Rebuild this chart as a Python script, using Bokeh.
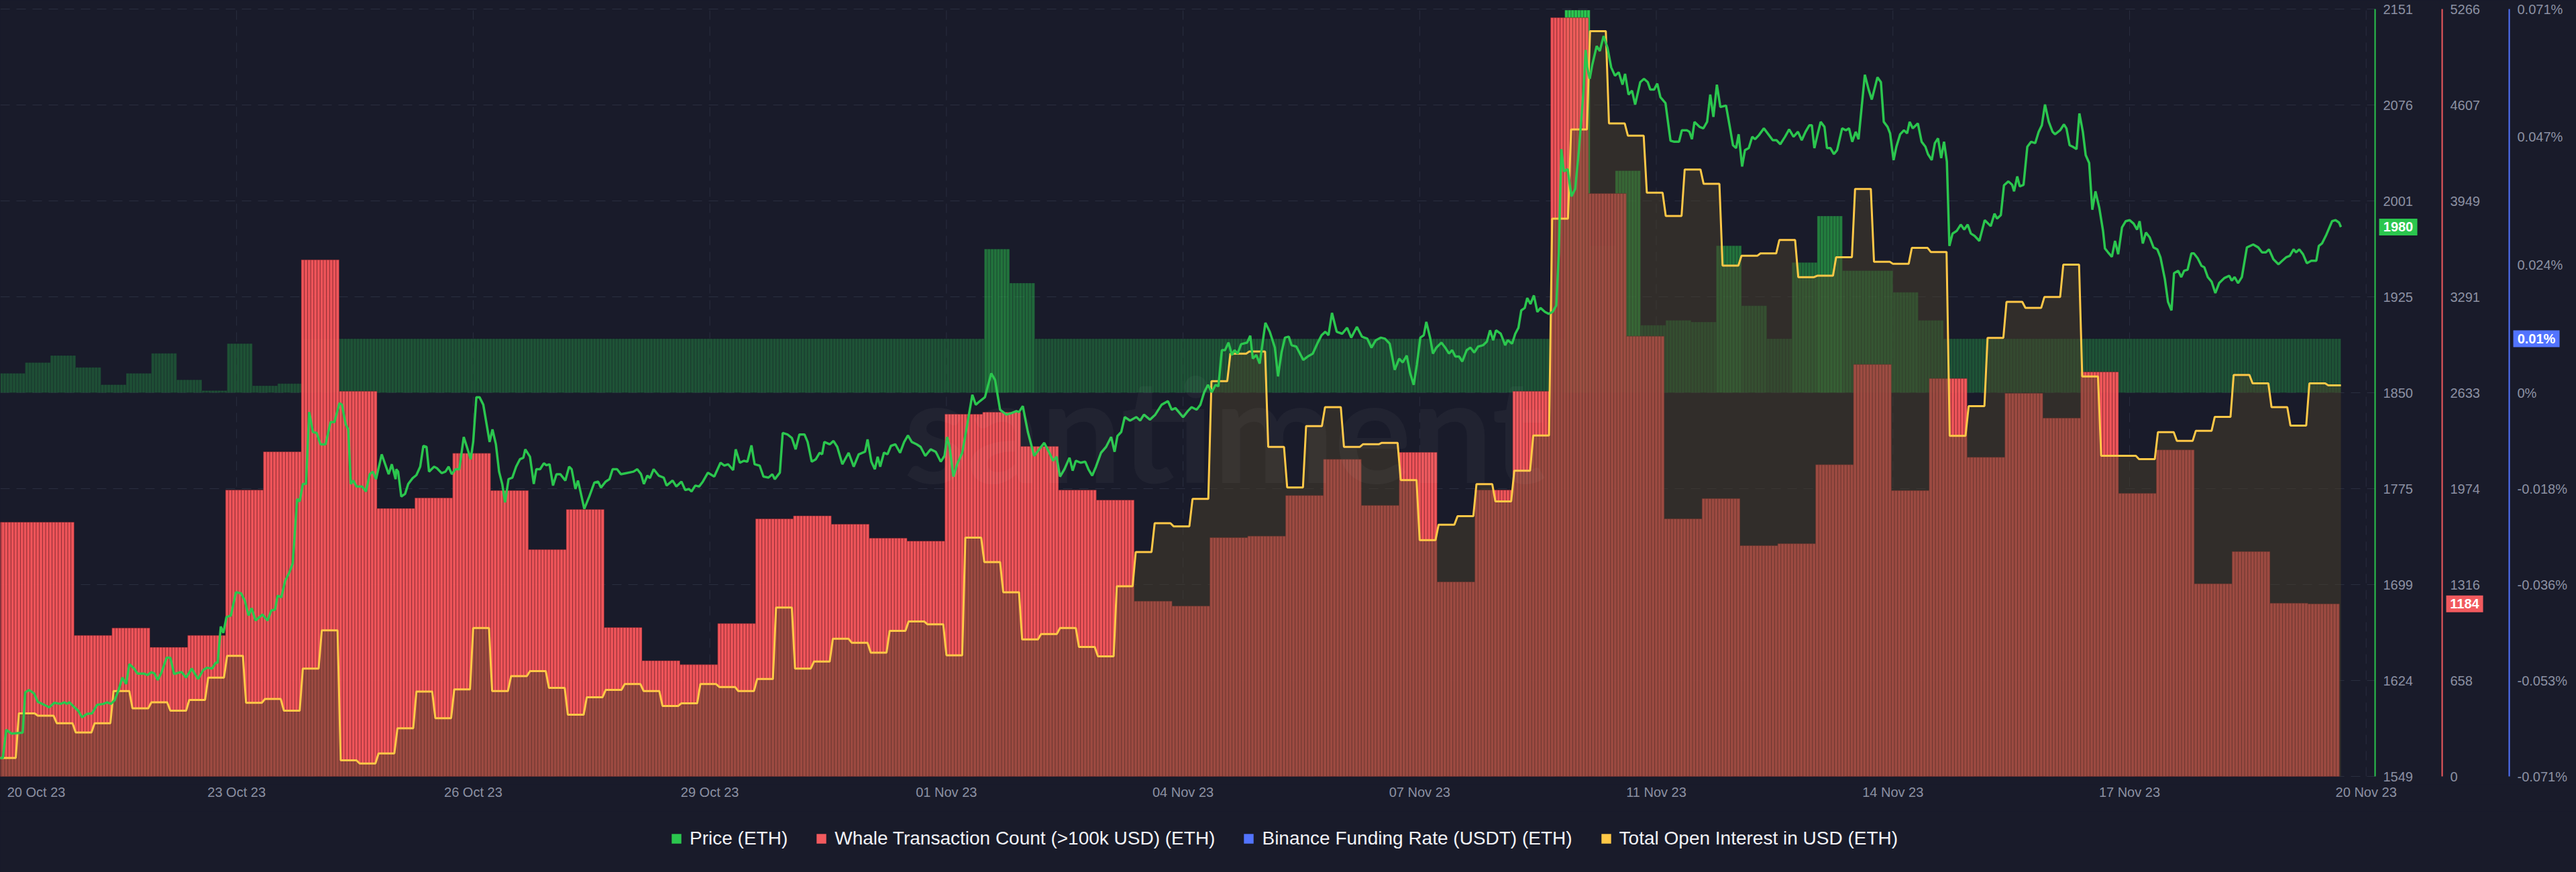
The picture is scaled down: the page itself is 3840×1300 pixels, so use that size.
import numpy as np
from bokeh.plotting import figure
from bokeh.layouts import column
from bokeh.models import (Range1d, LinearAxis, FixedTicker, ColumnDataSource,
                          Legend, LegendItem)
from bokeh.core.properties import value
from bokeh.embed import file_html
from bokeh.resources import INLINE

# ---------------------------------------------------------------- data
x_tick_labels = ["20 Oct 23", "23 Oct 23", "26 Oct 23", "29 Oct 23", "01 Nov 23",
                 "04 Nov 23", "07 Nov 23", "11 Nov 23", "14 Nov 23", "17 Nov 23", "20 Nov 23"]

price_tick_labels = ["1549", "1624", "1699", "1775", "1850", "1925", "2001", "2076", "2151"]
whale_tick_labels = ["0", "658", "1316", "1974", "2633", "3291", "3949", "4607", "5266"]
funding_tick_labels = ["-0.071%", "-0.053%", "-0.036%", "-0.018%", "0%", "0.024%", "0.047%", "0.071%"]

# hours since 20 Oct 23 00:00
price_hour = [
    0.0, 0.9, 2.0, 3.6, 7.2, 8.0, 9.2, 10.8, 12.0, 14.0, 15.6, 17.2, 19.2, 20.4, 21.2, 22.0, 23.6, 24.8,
    26.0, 27.6, 29.2, 30.8, 32.8, 34.0, 35.2, 36.4, 37.6, 38.8, 40.0, 41.0, 42.4, 43.6, 45.6, 46.8, 48.0,
    49.0, 50.0, 51.2, 52.8, 54.0, 55.2, 56.8, 57.6, 59.0, 60.8, 62.8, 64.4, 65.6, 67.2, 68.4, 69.0, 70.0,
    70.8, 71.8, 73.2, 74.8, 76.4, 77.6, 78.8, 79.8, 81.0, 83.2, 84.8, 86.0, 87.2, 88.0, 89.2, 90.4, 91.6,
    92.8, 93.6, 94.2, 95.0, 96.0, 97.0, 98.0, 99.2, 100.4, 101.6, 103.2, 104.8, 106.0, 107.6, 108.4, 109.6,
    110.4, 111.2, 112.0, 113.0, 114.8, 116.0, 117.2, 118.2, 119.2, 121.0, 123.2, 124.2, 125.4,
    125.6, 126.2, 127.2, 128.4, 129.4, 130.8, 132.0, 133.2, 134.2, 135.2, 136.0, 137.6, 138.5, 140.0, 141.2,
    142.2, 143.2, 144.4, 145.6, 147.0, 148.0, 149.2, 150.0, 151.0, 152.0, 153.2, 155.2, 156.1, 157.2, 158.2,
    159.2, 160.1, 161.2, 162.4, 163.6, 164.8, 165.9, 166.5, 168.0, 169.2, 170.0, 171.2, 172.4, 173.2, 174.2,
    175.3, 176.4, 177.6, 179.2, 180.4, 181.2, 182.4, 183.2, 184.0, 185.2, 186.8, 188.4, 189.6, 190.5, 192.0,
    193.2, 194.2, 195.6, 196.8, 198.4, 200.8, 202.0, 203.2, 204.1, 205.2, 206.0, 207.2, 208.8, 210.4, 211.3,
    213.2, 214.4, 216.0, 217.2, 218.4, 219.2, 220.4, 221.6, 222.8, 224.4, 226.4, 228.4, 229.6, 230.8, 232.4,
    233.2, 234.5, 235.8, 236.9, 238.2, 239.2, 240.8, 242.0, 243.6, 244.8, 245.6, 247.2, 248.1, 249.6, 251.0,
    252.2, 253.4, 255.0, 256.0, 257.3, 258.6, 259.8, 260.6, 261.3, 263.0, 264.2, 265.4, 267.0, 269.0, 270.6,
    272.2, 274.2, 275.0, 276.2, 277.3, 278.2, 279.0, 280.2, 281.3, 282.4, 283.8, 285.3, 286.6, 287.8, 289.0,
    290.6, 291.8, 293.3, 295.0, 296.6, 298.2, 299.4, 300.2, 301.0, 302.2, 303.4, 305.0, 306.6, 308.2, 309.3,
    310.6, 312.2, 314.2, 315.4, 317.0, 319.0, 320.6, 322.2, 323.0, 324.2, 325.8, 327.8, 329.4, 331.0, 332.6,
    333.8, 334.9, 336.0, 337.4, 339.0, 340.0, 341.0, 342.6, 344.0, 345.0, 346.2, 347.4, 349.0, 350.6, 352.2,
    353.3, 354.2, 355.4, 356.5, 358.2, 360.2, 361.4, 362.6, 364.5, 366.2, 368.2, 370.2, 371.4, 372.6, 375.0,
    376.5, 377.7, 379.3, 380.5, 381.7, 382.9, 384.1, 385.3, 386.2, 387.3, 388.3, 389.4, 390.5, 391.3, 392.3,
    393.4, 395.3, 396.3, 397.1, 398.2, 399.3, 401.1, 402.5, 404.1, 405.1, 406.2, 407.3, 408.5, 409.4, 410.9,
    413.1, 414.5, 416.1, 417.7, 418.9, 420.1, 421.1, 422.2, 423.7, 425.4, 427.0, 428.3, 430.1, 431.7, 433.4,
    434.7, 436.1, 437.7, 439.0, 440.5, 442.1, 443.5, 444.6, 445.9, 447.0, 448.1, 449.1, 450.2, 451.3, 452.1,
    453.3, 454.2, 455.3, 456.9, 458.1, 459.3, 460.3, 461.3, 462.5, 463.5, 464.9, 466.1, 467.3, 468.5, 470.1,
    471.3, 472.3, 473.3, 474.2, 475.7, 477.1, 477.9, 479.3, 480.3, 481.3, 482.2, 483.3, 484.1, 485.1, 486.2,
    487.3, 488.3, 489.7, 490.9, 492.1, 493.3, 494.1, 494.9, 495.7, 496.9, 498.1, 499.3, 500.5, 501.9,
    502.6, 503.1, 503.9, 504.7, 506.1, 507.1, 508.3, 509.5, 510.7, 511.9, 513.1, 514.3, 515.1, 516.2, 517.3,
    518.3, 519.9, 521.1, 522.3, 523.1, 524.3, 525.3, 526.3, 527.9, 529.5, 530.7, 532.2, 533.1, 534.7, 535.5,
    536.3, 537.1, 538.7, 539.9, 541.1, 542.1, 543.1, 544.2, 545.3, 547.1, 548.3, 549.3, 550.3, 551.1, 552.2,
    553.1, 554.3, 555.4, 556.3, 557.5, 559.1, 560.5, 561.9, 563.1, 564.3, 565.8, 567.1, 568.5, 569.9, 571.1,
    572.3, 573.5, 574.3, 575.1, 576.2, 577.1, 578.3, 579.1, 580.2, 581.3, 582.3, 583.9, 585.1, 586.1, 587.1,
    588.2, 589.1, 591.1, 592.3, 593.3, 595.1, 596.2, 597.1, 598.3, 599.1, 600.2, 601.1, 602.3, 603.5, 604.5,
    605.3, 606.3, 607.9, 609.1, 610.3, 611.1, 612.3, 613.3, 614.3, 615.3, 616.2, 617.1, 617.9, 618.9, 620.2,
    621.5, 622.6, 623.7, 624.7, 625.9, 627.4, 629.1, 631.0, 632.2, 633.0, 634.2, 635.2, 636.6, 637.8, 638.4,
    639.4, 640.2, 641.4, 642.6, 643.8, 645.1, 646.2, 647.2, 648.2, 649.4, 650.6, 651.4, 653.0, 654.2, 655.0,
    656.0, 657.0, 658.2, 659.1, 660.2, 661.1, 662.2, 663.2, 664.2, 665.4, 666.6, 667.2, 668.2, 669.4, 670.4,
    671.4, 672.6, 673.8, 675.0, 676.3, 677.4, 678.2, 679.2, 680.2, 681.4, 682.6, 683.8, 684.8, 686.2, 687.2,
    688.3, 689.1, 690.4, 691.4, 692.3, 693.4, 694.6, 695.4, 696.6, 697.8, 698.7, 699.8, 701.0, 702.2, 703.4,
    705.0, 706.6, 707.4, 708.3, 709.4, 710.6, 712.2, 714.2, 715.8, 717.0, 718.2, 719.2, 720.6, 722.2, 723.4,
    724.6, 725.8, 727.0, 727.8, 728.8, 730.0, 731.2, 732.6, 734.2, 735.0, 736.0, 737.4, 739.2, 740.3, 741.4,
    742.0]

price_usd = [
    1563.5, 1563.5, 1585.7, 1582.6, 1583.3, 1614.9, 1616.8, 1614.1, 1607.5, 1605.2, 1603.2, 1606.7, 1605.9,
    1607.1, 1605.9, 1607.1, 1603.2, 1600.5, 1595.4, 1598.1, 1598.5, 1605.2, 1605.9, 1607.1, 1605.9, 1609.0,
    1616.8, 1626.6, 1621.5, 1637.1, 1634.0, 1629.7, 1629.7, 1628.5, 1630.8, 1629.7, 1624.6, 1630.5, 1642.1,
    1642.1, 1629.3, 1630.5, 1630.8, 1626.6, 1633.6, 1625.4, 1632.4, 1634.3, 1633.6, 1638.2, 1638.2, 1666.6,
    1661.6, 1674.0, 1675.2, 1693.5, 1692.7, 1686.9, 1675.2, 1681.0, 1671.3, 1676.0, 1671.3, 1679.1, 1679.9,
    1690.8, 1689.6, 1702.5, 1708.3, 1716.1, 1745.3, 1766.7, 1764.7, 1778.4, 1778.4, 1834.8, 1819.2, 1818.4,
    1809.5, 1809.5, 1827.0, 1827.0, 1841.8, 1840.6, 1825.1, 1821.2, 1778.4, 1781.1, 1776.4, 1776.4, 1772.5,
    1786.1, 1788.1, 1782.2, 1801.7, 1786.1, 1793.9, 1782.2,
    1790.0, 1788.1, 1768.6, 1770.6, 1778.4, 1783.0, 1785.4, 1792.0, 1808.3, 1807.5, 1788.1, 1792.0, 1790.8,
    1786.9, 1788.1, 1792.0, 1786.1, 1790.0, 1790.0, 1815.3, 1807.5, 1797.8, 1811.4, 1846.5, 1846.5, 1840.6,
    1811.4, 1821.2, 1809.5, 1788.1, 1778.4, 1764.0, 1782.2, 1783.4, 1792.0, 1797.8, 1799.0, 1805.6, 1799.8,
    1778.4, 1790.0, 1790.0, 1794.7, 1793.1, 1793.9, 1777.2, 1786.1, 1786.1, 1781.1, 1792.0, 1790.0, 1774.5,
    1781.1, 1772.5, 1758.9, 1768.6, 1779.5, 1780.3, 1775.6, 1780.3, 1782.2, 1790.0, 1790.0, 1786.1, 1786.9,
    1788.1, 1790.0, 1786.1, 1778.4, 1785.0, 1783.0, 1790.0, 1785.0, 1783.4, 1777.2, 1781.1, 1776.4, 1780.3,
    1773.7, 1774.5, 1772.5, 1777.2, 1776.4, 1780.3, 1787.3, 1784.2, 1795.1, 1792.8, 1793.9, 1789.3, 1805.6,
    1795.1, 1796.6, 1795.9, 1808.7, 1793.9, 1792.8, 1784.2, 1783.4, 1786.1, 1782.2, 1787.3, 1818.4, 1817.3,
    1814.6,
    1805.6, 1817.3, 1817.3, 1811.4, 1795.9, 1797.8, 1802.9, 1801.7, 1811.4, 1809.5, 1812.2, 1807.5, 1793.9,
    1802.9, 1792.0, 1801.7, 1803.7, 1813.4, 1795.9, 1790.0, 1799.8, 1792.0, 1803.0, 1801.7, 1808.3, 1809.5,
    1802.9, 1811.4, 1816.5, 1811.4, 1809.5, 1807.5, 1800.5, 1805.6, 1803.7, 1795.9, 1800.5, 1815.3, 1807.5,
    1784.2, 1793.9, 1802.9, 1825.1, 1848.4, 1840.6, 1843.4, 1846.5, 1865.2, 1860.1, 1836.7, 1832.8, 1834.0,
    1835.6, 1834.8, 1839.5, 1819.2, 1800.5, 1805.6, 1810.7, 1803.0, 1796.6, 1799.8, 1784.2, 1790.0, 1799.0,
    1788.9, 1796.6, 1795.1, 1795.9, 1790.0, 1785.0, 1792.0, 1802.9, 1807.5, 1815.3, 1803.7, 1816.1, 1819.2,
    1830.9, 1828.2, 1830.9, 1828.2, 1832.8, 1828.9, 1832.8, 1840.6, 1843.4, 1836.7, 1837.9, 1830.9, 1835.6,
    1838.7, 1836.7, 1840.6, 1850.4, 1856.2, 1850.4, 1856.2, 1855.0, 1883.4, 1883.4, 1889.3, 1879.6, 1883.4,
    1880.7, 1888.1, 1889.3, 1894.7, 1876.8, 1879.6, 1872.9, 1904.9, 1897.8, 1885.4, 1862.8, 1881.5, 1893.2,
    1894.0, 1887.3, 1886.2, 1875.7, 1878.4, 1880.7, 1889.3, 1895.1, 1897.8, 1895.1, 1912.6, 1897.8, 1896.3,
    1901.0, 1893.2, 1901.7, 1894.0, 1892.4, 1885.4, 1891.2, 1893.2, 1892.4, 1888.5, 1867.9, 1876.8, 1873.7,
    1879.2, 1865.2, 1856.2, 1871.8, 1893.2, 1895.1, 1905.6, 1893.2, 1880.7, 1885.4, 1889.3, 1885.4, 1880.7,
    1883.4, 1878.4, 1878.4, 1874.5, 1883.4, 1885.4, 1881.5, 1886.2, 1887.3, 1890.1, 1899.0, 1891.2, 1899.0,
    1896.3, 1887.3, 1891.2, 1888.5, 1896.3, 1901.0, 1914.6, 1916.5, 1924.3, 1919.6, 1926.3, 1913.4, 1916.5,
    1913.4, 1911.9, 1913.4, 1918.5, 1959.3, 2041.1, 2023.6, 2025.5, 2004.1, 2009.9, 2041.1, 2085.8,
    2118.9, 2105.3, 2096.3, 2107.2, 2122.0, 2118.1, 2129.8, 2120.9, 2105.3, 2098.7, 2101.4, 2091.7, 2100.2,
    2083.9, 2087.0, 2076.1, 2093.6, 2096.3, 2093.6, 2087.8, 2087.8, 2092.5, 2081.9, 2077.3, 2047.7, 2046.9,
    2046.9, 2055.9, 2055.9, 2054.7, 2048.9, 2062.5, 2058.6, 2057.4, 2062.5, 2083.9, 2066.4, 2091.7, 2074.2,
    2075.3, 2058.6, 2044.2, 2041.9, 2052.8, 2027.5, 2040.3, 2041.9, 2050.8, 2048.9, 2052.0, 2057.4, 2052.8,
    2048.1, 2048.1, 2045.0, 2050.8, 2056.6, 2050.8, 2054.7, 2048.1, 2054.7, 2059.8, 2059.8, 2041.9, 2053.5,
    2062.5, 2058.6, 2041.9, 2041.9, 2037.2, 2040.3, 2057.4, 2055.9, 2057.4, 2046.9, 2054.7, 2048.9, 2099.5,
    2087.8, 2080.0, 2097.5, 2093.6, 2062.5, 2058.6, 2053.5, 2032.5, 2043.0, 2052.8, 2055.9, 2053.5, 2062.5,
    2057.4, 2061.3, 2046.9, 2043.0, 2037.2, 2032.5, 2045.8, 2049.6, 2034.1, 2046.9, 2031.3, 1965.2, 1974.9,
    1976.9, 1981.9, 1978.0, 1981.9, 1974.9, 1973.0, 1969.1, 1985.4, 1980.7, 1990.5, 1986.6, 1989.3, 2012.7,
    2015.8, 2013.1, 2008.0, 2019.7, 2011.9, 2013.1, 2043.0, 2046.9, 2045.8, 2054.7, 2059.8, 2076.1, 2062.5,
    2054.7, 2052.8, 2055.9, 2060.5, 2057.4, 2044.2, 2043.0, 2041.1, 2069.1, 2054.7, 2036.4, 2030.2, 1993.6,
    2008.0, 1995.2, 1976.9, 1963.2, 1960.1, 1956.6, 1969.1, 1958.6, 1979.6, 1984.6, 1985.4, 1982.7, 1978.0,
    1984.6, 1967.1, 1975.7, 1971.8, 1964.0, 1962.5, 1956.2, 1939.1, 1921.2, 1914.6, 1943.8, 1945.7, 1940.7,
    1945.7, 1946.5, 1959.3, 1959.3, 1955.5, 1949.6, 1948.4, 1940.7, 1937.2, 1928.2, 1936.0, 1939.9, 1941.8,
    1937.9, 1940.7, 1936.0, 1940.7, 1964.0, 1966.3, 1964.0, 1960.1, 1960.1, 1962.5, 1954.7, 1950.8, 1953.5,
    1956.2, 1957.4, 1962.5, 1960.1, 1962.5, 1958.6, 1951.6, 1953.5, 1953.5, 1965.2, 1967.1, 1974.1, 1984.6,
    1985.4, 1983.5, 1980.0]

# whale transactions (>100k USD), one value per 12 hours
whale_count_12h = [
    1745, 1745, 968, 1019, 886, 968, 1965, 2228, 3545, 2643, 1839, 1911, 2217, 1962, 1557, 1832,
    1022, 794, 767, 1049, 1768, 1788, 1731, 1635, 1615, 2486, 2500, 2265, 1965, 1897, 1203, 1169,
    1639, 1649, 1928, 2176, 1860, 2224, 1335, 1965, 2643, 5207, 4000, 3021, 1768, 1907, 1584, 1597,
    2139, 2827, 1962, 2731, 2190, 2629, 2459, 2776, 1942, 2241, 1322, 1543, 1189, 1184]

# Binance funding rate (%), one value per 8 hours
funding_rate_8h = [
    0.0036, 0.0056, 0.0069, 0.0047, 0.0015, 0.0036, 0.0073, 0.0024, 0.0004, 0.0091, 0.0013, 0.0017,
    0.01, 0.01, 0.01, 0.01, 0.01, 0.01, 0.01, 0.01, 0.01, 0.01, 0.01, 0.01, 0.01, 0.01, 0.01, 0.01,
    0.01, 0.01, 0.01, 0.01, 0.01, 0.01, 0.01, 0.01, 0.01, 0.01, 0.01, 0.0266, 0.0203, 0.01, 0.01,
    0.01, 0.01, 0.01, 0.01, 0.01, 0.01, 0.01, 0.01, 0.01, 0.01, 0.01, 0.01, 0.01, 0.01, 0.01, 0.01,
    0.01, 0.01, 0.01, 0.0708, 0.0272, 0.0411, 0.0125, 0.0134, 0.0131, 0.0272, 0.0161, 0.01, 0.0241,
    0.0327, 0.0226, 0.0226, 0.0186, 0.0134, 0.01, 0.01, 0.01, 0.01, 0.01, 0.01, 0.01, 0.01, 0.01,
    0.01, 0.01, 0.01, 0.01, 0.01, 0.01, 0.01]

# total open interest (billion USD), one value per 6 hours
open_interest_6h = [
    4.877, 5.063, 5.053, 5.022, 4.983, 5.022, 5.156, 5.084, 5.109, 5.074, 5.119, 5.212, 5.303, 5.107,
    5.123, 5.074, 5.250, 5.409, 4.867, 4.854, 4.896, 5.001, 5.154, 5.043, 5.163, 5.419, 5.156, 5.218,
    5.239, 5.169, 5.057, 5.130, 5.161, 5.185, 5.156, 5.094, 5.105, 5.185, 5.173, 5.156, 5.206, 5.504,
    5.250, 5.279, 5.374, 5.357, 5.316, 5.407, 5.446, 5.434, 5.305, 5.796, 5.694, 5.568, 5.371, 5.394,
    5.419, 5.340, 5.301, 5.593, 5.736, 5.856, 5.843, 5.957, 6.448, 6.563, 6.572, 6.174, 6.005, 6.261,
    6.340, 6.174, 6.185, 6.191, 6.036, 5.785, 5.850, 5.885, 6.019, 5.947, 6.075, 6.222, 7.126, 7.498,
    7.908, 7.523, 7.472, 7.234, 7.137, 7.331, 7.271, 6.930, 6.971, 6.981, 7.037, 6.882, 6.888, 6.965,
    7.250, 6.946, 6.938, 7.004, 6.987, 6.220, 6.344, 6.629, 6.779, 6.754, 6.799, 6.934, 6.468, 6.137,
    6.137, 6.123, 6.236, 6.199, 6.241, 6.299, 6.474, 6.439, 6.340, 6.263, 6.439, 6.431]

last_price = 1980
last_whale = 1184
last_funding = 0.01

# ---------------------------------------------------------------- styling / layout constants
BG = "#191B2A"
GRID = "#2A2E3F"
TICK_TXT = "#8C91A3"
C_PRICE = "#2BC64E"
C_WHALE_BAR = "#FF585D"
C_WHALE = "#F25A5E"
C_FUND = "#5274FF"
C_FUND_BAR = "#2BC64E"
C_OI = "#FFC847"
C_OI_FILL = "#4A3F2A"
FONT = "Liberation Sans"

W = 3840
FRAME_H = 1169                    # frame spans page y 0..1169
DATA_TOP, DATA_BOTTOM = 13, 1157  # where the axis extremes sit
PX_PER_H = 4.703                  # horizontal scale
X_OFF = 0.55


def px_to_h(px):
    return (px + X_OFF) / PX_PER_H


def padded_range(lo, hi):
    per_px = (hi - lo) / (DATA_BOTTOM - DATA_TOP)
    return Range1d(lo - (FRAME_H - DATA_BOTTOM) * per_px, hi + DATA_TOP * per_px)


AX_PRICE, AX_WHALE, AX_FUND = px_to_h(3540), px_to_h(3640), px_to_h(3740)

N_HOURS = 742
hours = np.arange(N_HOURS)
whale_h = np.repeat(np.array(whale_count_12h, float), 12)[:N_HOURS]
fund_h = np.repeat(np.array(funding_rate_8h, float), 8)[:N_HOURS]
oi_h = np.repeat(np.array(open_interest_6h, float), 6)[:N_HOURS + 1]
fund_alpha = np.clip(0.33 + (fund_h - 0.01) / 0.061 * 0.67, 0.30, 1.0)

PRICE_LO, PRICE_HI = 1549, 2151
WHALE_LO, WHALE_HI = 0, 5266
FUND_LO, FUND_HI = -0.071, 0.071
OI_LO, OI_HI = 4.8, 8.0

p = figure(frame_width=W, frame_height=FRAME_H,
           x_range=Range1d(px_to_h(0), px_to_h(W)), y_range=padded_range(PRICE_LO, PRICE_HI),
           y_axis_location="right", output_backend="svg", toolbar_location=None,
           min_border_left=0, min_border_right=0, min_border_top=0, min_border_bottom=40,
           background_fill_color=BG, border_fill_color=BG, outline_line_color=None,
           styles={"background-color": BG})
p.extra_y_ranges = {"whale": padded_range(WHALE_LO, WHALE_HI),
                    "funding": padded_range(FUND_LO, FUND_HI),
                    "oi": padded_range(OI_LO, OI_HI)}

# ---- axes
price_ticks = [PRICE_LO + 75.25 * k for k in range(9)]
whale_ticks = [658.25 * k for k in range(9)]
funding_ticks = [-0.071, -0.05325, -0.0355, -0.01775, 0.0, 0.071 / 3, 0.142 / 3, 0.071]


def style_y_axis(ax, color, ticks, labels, loc, bounds):
    ax.fixed_location = loc
    ax.bounds = bounds
    ax.ticker = FixedTicker(ticks=ticks)
    ax.major_label_overrides = dict(zip(ticks, labels))
    ax.axis_line_color = color
    ax.axis_line_width = 2
    ax.major_tick_line_color = None
    ax.minor_tick_line_color = None
    ax.major_tick_out = 0
    ax.major_tick_in = 0
    ax.minor_tick_out = 0
    ax.major_label_standoff = 12
    ax.major_label_text_font = FONT
    ax.major_label_text_font_size = "20px"
    ax.major_label_text_color = TICK_TXT


style_y_axis(p.yaxis[0], C_PRICE, price_ticks, price_tick_labels, AX_PRICE, (PRICE_LO, PRICE_HI))
ax_whale = LinearAxis(y_range_name="whale")
style_y_axis(ax_whale, C_WHALE, whale_ticks, whale_tick_labels, AX_WHALE, (WHALE_LO, WHALE_HI))
p.add_layout(ax_whale, "right")
ax_fund = LinearAxis(y_range_name="funding")
style_y_axis(ax_fund, C_FUND, funding_ticks, funding_tick_labels, AX_FUND, (FUND_LO, FUND_HI))
p.add_layout(ax_fund, "right")

x_ticks = [11.5] + [75 * i for i in range(1, len(x_tick_labels))]
xa = p.xaxis[0]
xa.ticker = FixedTicker(ticks=x_ticks)
xa.major_label_overrides = dict(zip(x_ticks, x_tick_labels))
xa.axis_line_color = None
xa.major_tick_line_color = None
xa.minor_tick_line_color = None
xa.major_tick_out = 0
xa.major_tick_in = 0
xa.major_label_standoff = 0
xa.major_label_text_font = FONT
xa.major_label_text_font_size = "20px"
xa.major_label_text_color = TICK_TXT

p.xgrid.visible = False
p.ygrid.visible = False
# dashed grid: horizontal lines stop at the price axis, vertical lines at the date ticks
p.segment(x0=px_to_h(0), x1=AX_PRICE, y0=price_ticks, y1=price_ticks,
          line_color=GRID, line_dash="14 10", line_width=1)
p.segment(x0=x_ticks[1:], x1=x_ticks[1:], y0=PRICE_LO, y1=PRICE_HI,
          line_color=GRID, line_dash="14 10", line_width=1)

# ---- glyphs
fund_src = ColumnDataSource(dict(x=hours + 0.5, top=fund_h, a=fund_alpha))
p.vbar(x="x", top="top", bottom=0, width=1.0, source=fund_src, y_range_name="funding",
       fill_color=C_FUND_BAR, fill_alpha="a", line_color=BG, line_alpha=0.3, line_width=1)

whale_src = ColumnDataSource(dict(x=hours, top=whale_h))
p.vbar(x="x", top="top", bottom=0, width=1.0, source=whale_src, y_range_name="whale",
       fill_color=C_WHALE_BAR, fill_alpha=0.93, line_color="#6A1F28", line_alpha=0.5,
       line_width=1)

oi_src = ColumnDataSource(dict(x=np.arange(len(oi_h)), y=oi_h))
p.varea(x="x", y1=OI_LO, y2="y", source=oi_src, y_range_name="oi",
        fill_color=C_OI_FILL, fill_alpha=0.5)
p.line(x="x", y="y", source=oi_src, y_range_name="oi", line_color=C_OI, line_width=3)

price_src = ColumnDataSource(dict(x=price_hour, y=price_usd))
p.line(x="x", y="y", source=price_src, line_color=C_PRICE, line_width=3.5)

# ---- watermark
wm_y = PRICE_HI - (636 - DATA_TOP) * (PRICE_HI - PRICE_LO) / (DATA_BOTTOM - DATA_TOP)
p.text(x=[px_to_h(1825)], y=[wm_y], text=["santiment"], text_font=value("Lato"),
       text_font_style="bold", text_font_size="215px", text_color="#FFFFFF", text_alpha=0.035,
       text_align="center", text_baseline="alphabetic")

# ---- value badges at the right axes
badges = [(AX_PRICE, last_price, str(last_price), C_PRICE, 57, "default"),
          (AX_WHALE, last_whale, str(last_whale), C_WHALE, 55, "whale"),
          (AX_FUND, last_funding, "0.01%", C_FUND, 69, "funding")]
for ax_x, val, txt, col, bw, rng in badges:
    cx = ax_x + (6 + bw / 2) / PX_PER_H
    p.rect(x=[cx], y=[val], width=bw, height=25,
           width_units="screen", height_units="screen", fill_color=col, line_color=None,
           y_range_name=rng)
    p.text(x=[cx], y=[val], text=[txt], text_font=value(FONT),
           text_font_size="20px", text_font_style="bold", text_color="#FFFFFF",
           text_align="center", text_baseline="middle", y_range_name=rng)

# ---- legend (own strip below the chart)
main_h = FRAME_H + 40
leg_h = 1300 - main_h
pl = figure(frame_width=W, frame_height=leg_h, x_range=Range1d(0, 1), y_range=Range1d(0, 1),
            x_axis_location=None, y_axis_location=None, output_backend="svg",
            toolbar_location=None, min_border_left=0, min_border_right=0, min_border_top=0,
            min_border_bottom=0, background_fill_color=BG, border_fill_color=BG,
            outline_line_color=None, styles={"background-color": BG})
pl.xgrid.visible = False
pl.ygrid.visible = False
# legend swatches need one (off-screen) row of data to be drawn
proxy = ColumnDataSource(dict(l=[-3], r=[-2], b=[-3], t=[-2]))
items = []
for col, name in [(C_PRICE, "Price (ETH)"),
                  (C_WHALE, "Whale Transaction Count (>100k USD) (ETH)"),
                  (C_FUND, "Binance Funding Rate (USDT) (ETH)"),
                  (C_OI, "Total Open Interest in USD (ETH)")]:
    r = pl.quad(left="l", right="r", bottom="b", top="t", source=proxy,
                fill_color=col, line_color=None)
    items.append(LegendItem(label=name, renderers=[r]))

legend = Legend(items=items, orientation="horizontal", location=(999, 1300 - 1250 - 16),
                glyph_width=18, glyph_height=18, label_standoff=11, spacing=41,
                padding=0, margin=0, background_fill_alpha=0, border_line_color=None,
                label_text_font=FONT, label_text_font_size="28px",
                label_text_color="#F2F3F7")
pl.add_layout(legend)

layout = column(p, pl, spacing=0, styles={"background-color": BG})
open("out.html", "w").write(file_html(layout, INLINE))
